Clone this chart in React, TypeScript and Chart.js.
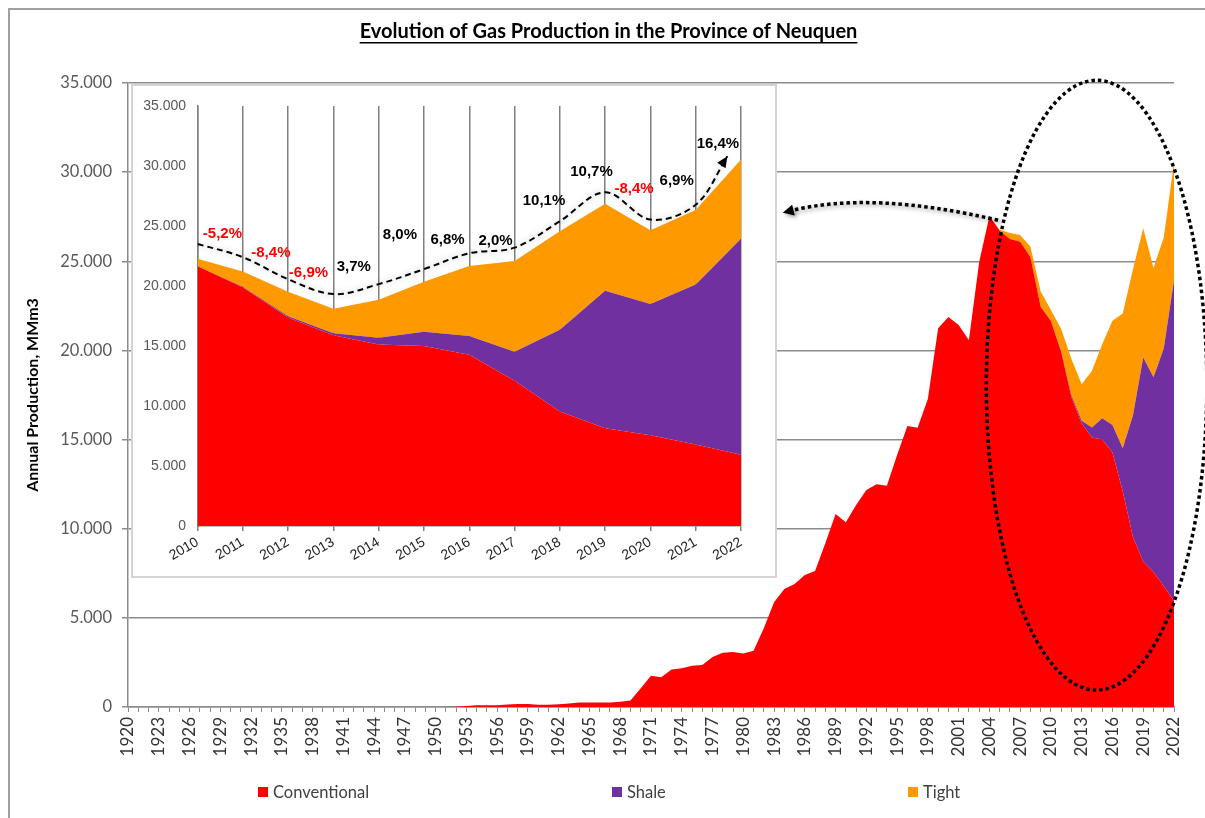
import React, { useEffect, useRef } from 'react';
import { Chart, registerables } from 'chart.js';

Chart.register(...registerables);

// ---------- DATA ----------
const YEARS: string[] = [];
for (let y = 1920; y <= 2022; y++) YEARS.push(String(y));

// Annual production, MMm3 (1920..2022)
const CONVENTIONAL = [
  0, 0, 0, 0, 0, 0, 0, 0, 0, 0,
  0, 0, 0, 0, 0, 0, 0, 0, 0, 0,
  0, 0, 0, 0, 0, 0, 0, 0, 0, 0,
  0, 0, 20, 60, 100, 100, 100, 140, 170, 170,
  120, 120, 150, 200, 250, 250, 250, 250, 300, 360,
  1050, 1750, 1670, 2110, 2170, 2320, 2360, 2810, 3040, 3080,
  3000, 3150, 4420, 5880, 6620, 6900, 7410, 7630, 9180, 10830,
  10360, 11330, 12170, 12500, 12410, 14130, 15760, 15660, 17290, 21240,
  21870, 21420, 20570, 24950, 27540, 26710, 26250, 26100, 25230, 22440,
  21650, 19900, 17380, 15900, 15120, 15000, 14270, 12100, 9540, 8150,
  7570, 6790, 5940,
];
const SHALE = [
  0, 0, 0, 0, 0, 0, 0, 0, 0, 0,
  0, 0, 0, 0, 0, 0, 0, 0, 0, 0,
  0, 0, 0, 0, 0, 0, 0, 0, 0, 0,
  0, 0, 0, 0, 0, 0, 0, 0, 0, 0,
  0, 0, 0, 0, 0, 0, 0, 0, 0, 0,
  0, 0, 0, 0, 0, 0, 0, 0, 0, 0,
  0, 0, 0, 0, 0, 0, 0, 0, 0, 0,
  0, 0, 0, 0, 0, 0, 0, 0, 0, 0,
  0, 0, 0, 0, 0, 0, 0, 0, 0, 0,
  0, 40, 100, 150, 560, 1190, 1550, 2420, 6820, 11450,
  10930, 13320, 18000,
];
const TIGHT = [
  0, 0, 0, 0, 0, 0, 0, 0, 0, 0,
  0, 0, 0, 0, 0, 0, 0, 0, 0, 0,
  0, 0, 0, 0, 0, 0, 0, 0, 0, 0,
  0, 0, 0, 0, 0, 0, 0, 0, 0, 0,
  0, 0, 0, 0, 0, 0, 0, 0, 0, 0,
  0, 0, 0, 0, 0, 0, 0, 0, 0, 0,
  0, 0, 0, 0, 0, 0, 0, 0, 0, 0,
  0, 0, 0, 0, 0, 0, 0, 0, 0, 0,
  0, 0, 0, 0, 0, 60, 330, 380, 580, 870,
  620, 1260, 2040, 2050, 3180, 4150, 5850, 7550, 8200, 7250,
  6130, 6220, 6600,
];

// Inset (2010..2022)
const INSET_FROM = 90;
const INSET_YEARS = YEARS.slice(INSET_FROM);
// Trend line (dashed arrow) : x in inset year index, y in MMm3
const TREND_X = [0, 1, 2, 3, 4, 5, 6, 7, 8, 9, 10, 11, 11.7];
const TREND_Y = [23500, 22400, 20560, 19320, 20150, 21400, 22720, 23190, 25390, 27800, 25530, 26770, 30800];
const PCT_LABELS = ['-5,2%', '-8,4%', '-6,9%', '3,7%', '8,0%', '6,8%', '2,0%', '10,1%', '10,7%', '-8,4%', '6,9%', '16,4%'];
const PCT_X = [0.55, 1.62, 2.45, 3.45, 4.47, 5.52, 6.58, 7.65, 8.7, 9.64, 10.58, 11.49];
const PCT_Y = [24350, 22770, 21060, 21580, 24230, 23870, 23740, 27050, 29530, 28100, 28790, 31820];

// Annotations on main chart (data coordinates: year index, MMm3)
const ELLIPSE = { cx: 94.45, cy: 18050, rx: 10.75, ry: 17100 };
const CURVE_ARROW = { sx: 84.85, sy: 27300, cx: 72.5, cy: 28970, ex: 63.85, ey: 27720 };

const TITLE = 'Evolution of Gas Production in the Province of Neuquen';
const Y_TITLE = 'Annual Production, MMm3';
const SERIES = ['Conventional', 'Shale', 'Tight'];
const COLORS = ['#FF0000', '#7030A0', '#FF9900'];

const fmt = (v: any) => String(v).replace(/\B(?=(\d{3})+(?!\d))/g, '.');

function arrowHead(ctx: CanvasRenderingContext2D, x: number, y: number, dx: number, dy: number, len: number, half: number) {
  const l = Math.hypot(dx, dy) || 1;
  const ux = dx / l, uy = dy / l;
  const bx = x - ux * len, by = y - uy * len;
  ctx.beginPath();
  ctx.moveTo(x, y);
  ctx.lineTo(bx - uy * half, by + ux * half);
  ctx.lineTo(bx + uy * half, by - ux * half);
  ctx.closePath();
  ctx.fill();
}

const LEGEND_BOX_X = [248, 602, 898];

const mainDecor = {
  id: 'mainDecor',
  afterDraw(chart: any) {
    const { ctx } = chart;
    const xs = chart.scales.x, ys = chart.scales.y;
    ctx.save();
    // Title
    ctx.font = 'bold 20px Lato';
    ctx.fillStyle = '#000';
    ctx.textAlign = 'center';
    ctx.textBaseline = 'middle';
    const tx = chart.width / 2 + 1;
    ctx.fillText(TITLE, tx, 22);
    const tw = ctx.measureText(TITLE).width;
    ctx.fillRect(tx - tw / 2, 32, tw, 1.5);

    // Legend
    ctx.font = '16.5px Lato';
    ctx.textAlign = 'left';
    const ly = 782;
    SERIES.forEach((s, i) => {
      const lx = LEGEND_BOX_X[i];
      ctx.fillStyle = COLORS[i];
      ctx.fillRect(lx, ly - 5, 10, 10);
      ctx.fillStyle = '#404040';
      ctx.fillText(s, lx + 15, ly + 1);
    });

    // Dotted ellipse
    const ecx = xs.getPixelForValue(ELLIPSE.cx), ecy = ys.getPixelForValue(ELLIPSE.cy);
    const erx = Math.abs(xs.getPixelForValue(ELLIPSE.cx + ELLIPSE.rx) - ecx);
    const ery = Math.abs(ys.getPixelForValue(ELLIPSE.cy + ELLIPSE.ry) - ecy);
    ctx.strokeStyle = '#000';
    ctx.lineWidth = 3.5;
    ctx.setLineDash([3.5, 3]);
    ctx.beginPath();
    ctx.ellipse(ecx, ecy, erx, ery, 0, 0, Math.PI * 2);
    ctx.stroke();

    // Dotted curved arrow
    const sx = xs.getPixelForValue(CURVE_ARROW.sx), sy = ys.getPixelForValue(CURVE_ARROW.sy);
    const cx = xs.getPixelForValue(CURVE_ARROW.cx), cy = ys.getPixelForValue(CURVE_ARROW.cy);
    const ex = xs.getPixelForValue(CURVE_ARROW.ex), ey = ys.getPixelForValue(CURVE_ARROW.ey);
    ctx.shadowColor = 'rgba(0,0,0,0.4)';
    ctx.shadowBlur = 4;
    ctx.shadowOffsetX = 2;
    ctx.shadowOffsetY = 2;
    const dx = ex - cx, dy = ey - cy;
    const dl = Math.hypot(dx, dy);
    const ex2 = ex - (dx / dl) * 8, ey2 = ey - (dy / dl) * 8;
    ctx.beginPath();
    ctx.moveTo(sx, sy);
    ctx.quadraticCurveTo(cx, cy, ex2, ey2);
    ctx.stroke();
    ctx.setLineDash([]);
    ctx.fillStyle = '#000';
    arrowHead(ctx, ex, ey, dx, dy, 11, 5.5);
    ctx.restore();
  },
};

const insetDecor = {
  id: 'insetDecor',
  beforeDatasetDraw(chart: any, args: any) {
    if (args.index === 3) {
      chart.ctx.save();
      chart.ctx.shadowColor = 'rgba(0,0,0,0.3)';
      chart.ctx.shadowBlur = 6;
    }
  },
  afterDatasetDraw(chart: any, args: any) {
    if (args.index === 3) chart.ctx.restore();
  },
  afterDatasetsDraw(chart: any) {
    const { ctx } = chart;
    const xs = chart.scales.x, ys = chart.scales.y;
    ctx.save();
    const meta = chart.getDatasetMeta(3);
    const pts = meta.data;
    const last = pts[pts.length - 1];
    const prev = pts[pts.length - 2];
    const px = last.cp1x !== undefined ? last.cp1x : prev.x;
    const py = last.cp1y !== undefined ? last.cp1y : prev.y;
    ctx.fillStyle = '#000';
    arrowHead(ctx, last.x, last.y, last.x - px, last.y - py, 11, 5);
    ctx.font = 'bold 15px "Liberation Sans"';
    ctx.textAlign = 'center';
    ctx.textBaseline = 'middle';
    PCT_LABELS.forEach((t, i) => {
      ctx.fillStyle = t.startsWith('-') ? '#FF0000' : '#000000';
      ctx.fillText(t, xs.getPixelForValue(PCT_X[i]), ys.getPixelForValue(PCT_Y[i]));
    });
    ctx.restore();
  },
};

export default function App() {
  const mainRef = useRef<HTMLCanvasElement>(null);
  const insetRef = useRef<HTMLCanvasElement>(null);

  useEffect(() => {
    const areaSets = (conv: number[], shale: number[], tight: number[]) => [
      { label: SERIES[0], data: conv, backgroundColor: COLORS[0], borderColor: 'rgba(0,0,0,0)', borderWidth: 0, fill: 'origin', pointRadius: 0, tension: 0 },
      { label: SERIES[1], data: shale, backgroundColor: COLORS[1], borderColor: 'rgba(0,0,0,0)', borderWidth: 0, fill: '-1', pointRadius: 0, tension: 0 },
      { label: SERIES[2], data: tight, backgroundColor: COLORS[2], borderColor: 'rgba(0,0,0,0)', borderWidth: 0, fill: '-1', pointRadius: 0, tension: 0 },
    ];

    const main = new Chart(mainRef.current as HTMLCanvasElement, {
      type: 'line',
      data: { labels: YEARS, datasets: areaSets(CONVENTIONAL, SHALE, TIGHT) as any },
      options: {
        responsive: false,
        animation: false,
        events: [],
        layout: { padding: { top: 73, right: 31, bottom: 0, left: 0 } },
        plugins: { legend: { display: false }, title: { display: false }, tooltip: { enabled: false } },
        scales: {
          x: {
            type: 'category',
            offset: false,
            afterFit: (s: any) => { s.height = 111; },
            grid: { drawOnChartArea: false, drawTicks: true, tickLength: 5, color: '#8c8c8c', lineWidth: 1 },
            border: { display: true, color: '#8c8c8c', width: 1.5 },
            ticks: {
              autoSkip: false, minRotation: 90, maxRotation: 90, padding: 5,
              color: '#333333', font: { family: 'Lato', size: 17 },
              callback: (_v: any, i: number) => (i % 3 === 0 ? YEARS[i] : ''),
            },
          },
          y: {
            stacked: true, min: 0, max: 35000,
            afterFit: (s: any) => { s.width = 118; },
            grid: { color: '#8c8c8c', lineWidth: 1.5, tickLength: 6 },
            border: { display: true, color: '#8c8c8c', width: 1.5 },
            ticks: { stepSize: 5000, padding: 10, color: '#595959', font: { family: 'Lato', size: 16.5 }, callback: fmt },
            title: { display: true, text: Y_TITLE, color: '#000', font: { family: 'Lato', size: 16, weight: 'bold' }, padding: { top: 13, bottom: 0 } },
          },
        },
      } as any,
      plugins: [mainDecor],
    });

    const inset = new Chart(insetRef.current as HTMLCanvasElement, {
      type: 'line',
      data: {
        labels: INSET_YEARS,
        datasets: [
          ...areaSets(CONVENTIONAL.slice(INSET_FROM), SHALE.slice(INSET_FROM), TIGHT.slice(INSET_FROM)),
          {
            label: 'trend', data: TREND_X.map((x, i) => ({ x, y: TREND_Y[i] })), xAxisID: 'x2', stack: 'trend',
            borderColor: '#000', borderWidth: 2, borderDash: [6, 4], fill: false, pointRadius: 0, tension: 0.35,
          },
        ] as any,
      },
      options: {
        responsive: false,
        animation: false,
        events: [],
        layout: { padding: { top: 18, right: 34, bottom: 0, left: 0 } },
        plugins: { legend: { display: false }, title: { display: false }, tooltip: { enabled: false } },
        scales: {
          x: {
            type: 'category',
            offset: false,
            afterFit: (s: any) => { s.height = 50; },
            grid: { drawOnChartArea: true, drawTicks: true, tickLength: 5, color: '#808080', lineWidth: 1.5 },
            border: { display: true, color: '#808080', width: 1.5 },
            ticks: { autoSkip: false, minRotation: 30, maxRotation: 30, padding: 3, color: '#262626', font: { family: 'Liberation Sans', size: 14 } },
          },
          x2: { type: 'linear', display: false, min: 0, max: 12 },
          y: {
            stacked: true, min: 0, max: 35000,
            afterFit: (s: any) => { s.width = 64.5; },
            grid: { drawOnChartArea: false, drawTicks: false },
            border: { display: true, color: '#808080', width: 1.5 },
            ticks: { stepSize: 5000, padding: 11.5, color: '#595959', font: { family: 'Liberation Sans', size: 14 }, callback: fmt },
          },
        },
      } as any,
      plugins: [insetDecor],
    });

    return () => {
      main.destroy();
      inset.destroy();
    };
  }, []);

  return (
    <div
      style={{
        position: 'fixed', left: 8, top: 8, width: 1197, height: 810, boxSizing: 'border-box',
        borderLeft: '2px solid #a0a0a0', borderTop: '2px solid #a0a0a0', background: '#fff',
      }}
    >
      <canvas ref={mainRef} width={1195} height={808} style={{ position: 'absolute', left: 0, top: 0 }} />
      <div
        style={{
          position: 'absolute', left: 121, top: 74, width: 646, height: 494, boxSizing: 'border-box',
          border: '2px solid #d4d4d4', background: '#fff',
        }}
      >
        <canvas ref={insetRef} width={642} height={490} style={{ display: 'block' }} />
      </div>
    </div>
  );
}
